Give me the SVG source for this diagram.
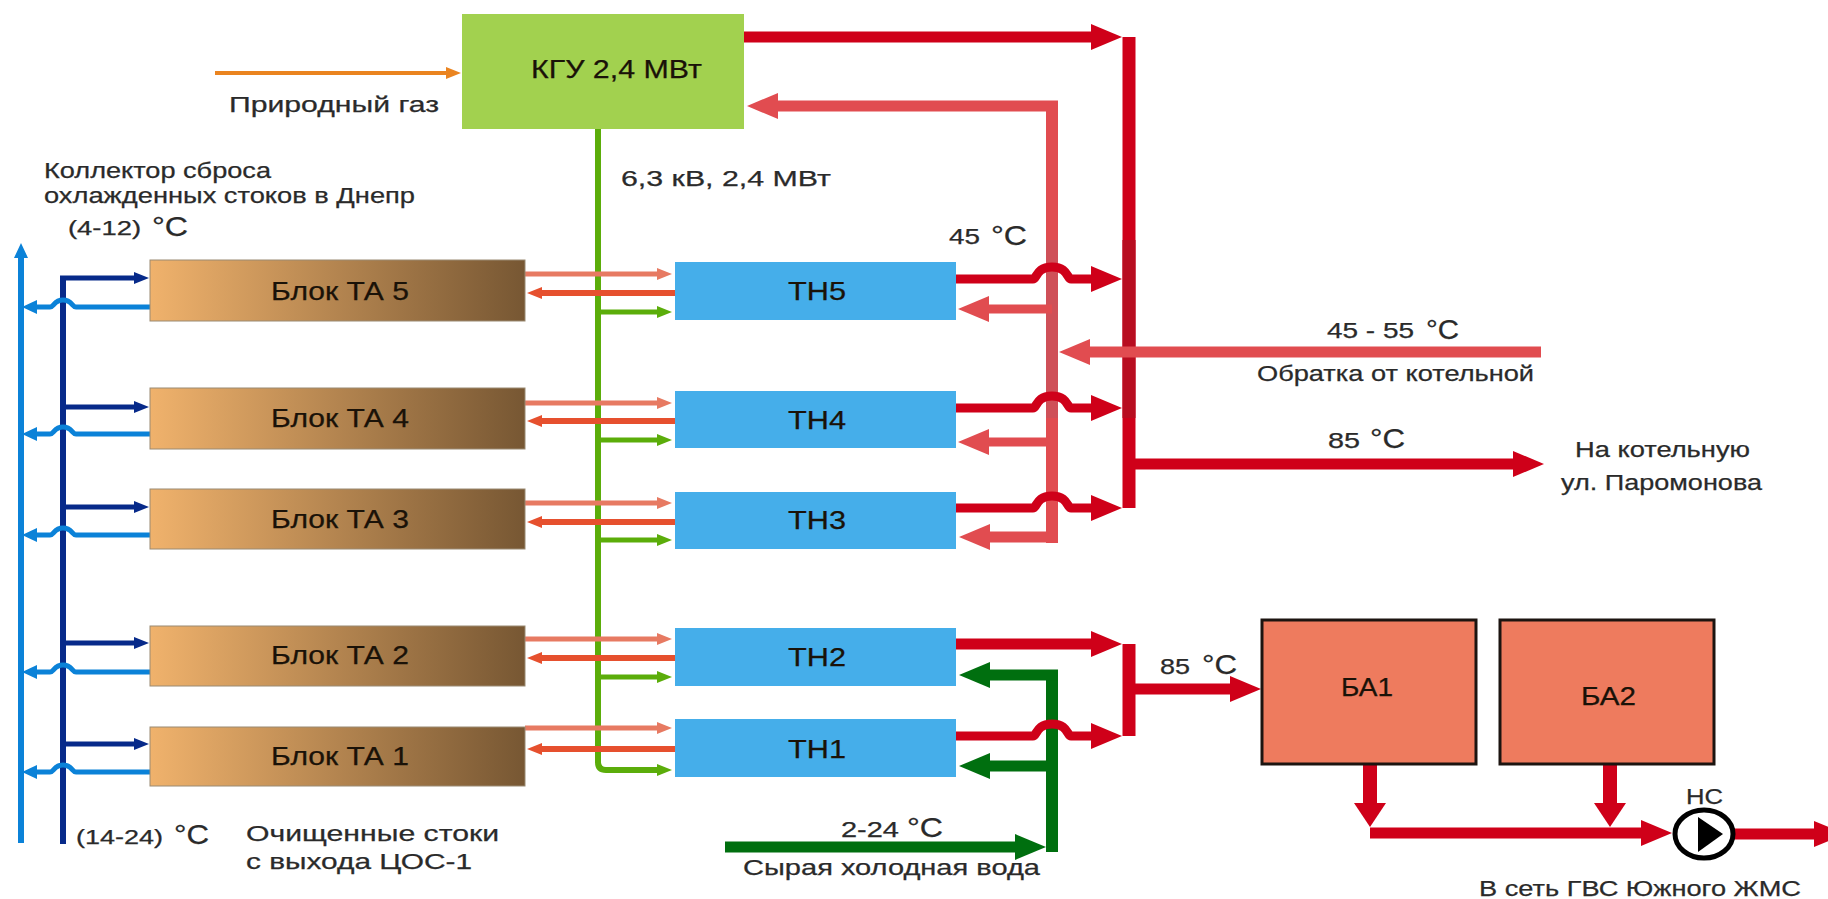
<svg xmlns="http://www.w3.org/2000/svg" width="1828" height="899" viewBox="0 0 1828 899">
<style>
text{font-family:"Liberation Sans",Arial,sans-serif;fill:#2a2a2a;font-size:22px;stroke:#2a2a2a;stroke-width:.25}
.n{fill:#1a1208;stroke:#1a1208;font-size:25px}
.deg{font-size:28px}
.sm{font-size:20px}
.ta{fill:url(#taGrad);stroke:#9a8a72;stroke-width:1}
.th{fill:#45aeea}
.ba{fill:#ee7b5e;stroke:#1c1410;stroke-width:3}
path{fill:none}
.red{stroke:#cf0019;stroke-width:11}
.pnk{stroke:#e14c50;stroke-width:11}
.grn{stroke:#006f0f;stroke-width:11}
.sal{stroke:#e77a62;stroke-width:5}
.ore{stroke:#e6502e;stroke-width:5}
.lim{stroke:#5bad0a;stroke-width:5}
.nav{stroke:#072a8a;stroke-width:5}
.blu{stroke:#0b82d8;stroke-width:5}
.org{stroke:#ea8420;stroke-width:4}
.w6{stroke-width:6}
.w9{stroke-width:9}
.w12{stroke-width:12}
.w13{stroke-width:13}
.w14{stroke-width:14}
</style>
<defs>
<linearGradient id="taGrad"><stop offset="0" stop-color="#f0b26c"/><stop offset="1" stop-color="#775733"/></linearGradient>
<marker id="mR" markerUnits="userSpaceOnUse" markerWidth="32" markerHeight="26" refX="1" refY="13" orient="auto"><polygon points="0,0 31,13 0,26" fill="#cf0019"/></marker>
<marker id="mP" markerUnits="userSpaceOnUse" markerWidth="32" markerHeight="26" refX="1" refY="13" orient="auto"><polygon points="0,0 31,13 0,26" fill="#e14c50"/></marker>
<marker id="mG" markerUnits="userSpaceOnUse" markerWidth="32" markerHeight="26" refX="1" refY="13" orient="auto"><polygon points="0,0 31,13 0,26" fill="#006f0f"/></marker>
<marker id="mO" markerUnits="userSpaceOnUse" markerWidth="16" markerHeight="12" refX="1" refY="6" orient="auto"><polygon points="0,0 15,6 0,12" fill="#ea8420"/></marker>
<marker id="mS" markerUnits="userSpaceOnUse" markerWidth="16" markerHeight="12" refX="1" refY="6" orient="auto"><polygon points="0,0 15,6 0,12" fill="#e77a62"/></marker>
<marker id="mE" markerUnits="userSpaceOnUse" markerWidth="16" markerHeight="12" refX="1" refY="6" orient="auto"><polygon points="0,0 15,6 0,12" fill="#e6502e"/></marker>
<marker id="mL" markerUnits="userSpaceOnUse" markerWidth="16" markerHeight="12" refX="1" refY="6" orient="auto"><polygon points="0,0 15,6 0,12" fill="#5bad0a"/></marker>
<marker id="mN" markerUnits="userSpaceOnUse" markerWidth="16" markerHeight="12" refX="1" refY="6" orient="auto"><polygon points="0,0 15,6 0,12" fill="#072a8a"/></marker>
<marker id="mB" markerUnits="userSpaceOnUse" markerWidth="16" markerHeight="14" refX="1" refY="7" orient="auto"><polygon points="0,0 15,7 0,14" fill="#0b82d8"/></marker>
</defs>
<rect width="1828" height="899" fill="#fff"/>
<g id="connectors">
<path d="M215 73H447" class="org" marker-end="url(#mO)"/>
<path d="M598 129V762Q598 770 606 770H658" class="lim w6" marker-end="url(#mL)"/>
<path d="M598 312H658" class="lim" marker-end="url(#mL)"/>
<path d="M598 440H658" class="lim" marker-end="url(#mL)"/>
<path d="M598 540H658" class="lim" marker-end="url(#mL)"/>
<path d="M598 677H658" class="lim" marker-end="url(#mL)"/>
<path d="M525 274H658" class="sal" marker-end="url(#mS)"/>
<path d="M525 403H658" class="sal" marker-end="url(#mS)"/>
<path d="M525 503H658" class="sal" marker-end="url(#mS)"/>
<path d="M525 639H658" class="sal" marker-end="url(#mS)"/>
<path d="M525 728H658" class="sal" marker-end="url(#mS)"/>
<path d="M675 293H541" class="ore w6" marker-end="url(#mE)"/>
<path d="M675 421H541" class="ore w6" marker-end="url(#mE)"/>
<path d="M675 522H541" class="ore w6" marker-end="url(#mE)"/>
<path d="M675 658H541" class="ore w6" marker-end="url(#mE)"/>
<path d="M675 749H541" class="ore w6" marker-end="url(#mE)"/>
<path d="M21 843V257" class="blu w6" marker-end="url(#mB)"/>
<path d="M63 844V276" class="nav w6"/>
<path d="M60 278H135" class="nav" marker-end="url(#mN)"/>
<path d="M63 407H135" class="nav" marker-end="url(#mN)"/>
<path d="M63 507H135" class="nav" marker-end="url(#mN)"/>
<path d="M63 643H135" class="nav" marker-end="url(#mN)"/>
<path d="M63 744H135" class="nav" marker-end="url(#mN)"/>
<path d="M150 307H76C72 307 72 300 63 300C54 300 54 307 50 307H36" class="blu" marker-end="url(#mB)"/>
<path d="M150 434H76C72 434 72 427 63 427C54 427 54 434 50 434H36" class="blu" marker-end="url(#mB)"/>
<path d="M150 535H76C72 535 72 528 63 528C54 528 54 535 50 535H36" class="blu" marker-end="url(#mB)"/>
<path d="M150 672H76C72 672 72 665 63 665C54 665 54 672 50 672H36" class="blu" marker-end="url(#mB)"/>
<path d="M150 772H76C72 772 72 765 63 765C54 765 54 772 50 772H36" class="blu" marker-end="url(#mB)"/>
<path d="M744 37H1092" class="red" marker-end="url(#mR)"/>
<path d="M1129 37V508" class="red w13"/>
<path d="M1129 240V418" class="w13" stroke="#b80d20"/>
<path d="M1135 464H1514" class="red" marker-end="url(#mR)"/>
<path d="M1058 106H777" class="pnk" marker-end="url(#mP)"/>
<path d="M1052 101V543" class="pnk w12"/>
<path d="M1052 240V418" class="w12" stroke="#cf5058"/>
<path d="M1058 537H989" class="pnk" marker-end="url(#mP)"/>
<path d="M1052 309H988" class="pnk w9" marker-end="url(#mP)"/>
<path d="M1052 442H988" class="pnk w9" marker-end="url(#mP)"/>
<path d="M1541 352H1089" class="pnk" marker-end="url(#mP)"/>
<path d="M955 279H1033C1037 279 1036 267 1052 267C1068 267 1067 279 1071 279H1092" class="red w9" marker-end="url(#mR)"/>
<path d="M955 408H1033C1037 408 1036 396 1052 396C1068 396 1067 408 1071 408H1092" class="red w9" marker-end="url(#mR)"/>
<path d="M955 508H1033C1037 508 1036 496 1052 496C1068 496 1067 508 1071 508H1092" class="red w9" marker-end="url(#mR)"/>
<path d="M1052 852V670" class="grn w12"/>
<path d="M1058 675H989" class="grn" marker-end="url(#mG)"/>
<path d="M1052 766H989" class="grn" marker-end="url(#mG)"/>
<path d="M725 847H1016" class="grn" marker-end="url(#mG)"/>
<path d="M955 644H1092" class="red" marker-end="url(#mR)"/>
<path d="M955 736H1033C1037 736 1036 724 1052 724C1068 724 1067 736 1071 736H1092" class="red w9" marker-end="url(#mR)"/>
<path d="M1129 644V736" class="red w13"/>
<path d="M1135 689H1231" class="red" marker-end="url(#mR)"/>
<path d="M1370 764V803" class="red w14"/>
<polygon points="1354,803 1386,803 1370,827" fill="#cf0019"/>
<path d="M1610 764V803" class="red w14"/>
<polygon points="1594,803 1626,803 1610,827" fill="#cf0019"/>
<path d="M1370 833H1642" class="red" marker-end="url(#mR)"/>
<path d="M1734 834H1815" class="red" marker-end="url(#mR)"/>
</g>
<g id="kgu"><rect x="462" y="14" width="282" height="115" fill="#a2d14f"/><text class="n" x="531" y="78" textLength="171" lengthAdjust="spacingAndGlyphs">КГУ 2,4 МВт</text></g>
<g id="ta5"><rect class="ta" x="150" y="260" width="375" height="61"/><text class="n" x="271" y="300" textLength="138" lengthAdjust="spacingAndGlyphs">Блок ТА 5</text></g>
<g id="ta4"><rect class="ta" x="150" y="388" width="375" height="61"/><text class="n" x="271" y="427" textLength="138" lengthAdjust="spacingAndGlyphs">Блок ТА 4</text></g>
<g id="ta3"><rect class="ta" x="150" y="489" width="375" height="60"/><text class="n" x="271" y="528" textLength="138" lengthAdjust="spacingAndGlyphs">Блок ТА 3</text></g>
<g id="ta2"><rect class="ta" x="150" y="626" width="375" height="60"/><text class="n" x="271" y="664" textLength="138" lengthAdjust="spacingAndGlyphs">Блок ТА 2</text></g>
<g id="ta1"><rect class="ta" x="150" y="727" width="375" height="59"/><text class="n" x="271" y="765" textLength="138" lengthAdjust="spacingAndGlyphs">Блок ТА 1</text></g>
<g id="th5"><rect class="th" x="675" y="262" width="281" height="58"/><text class="n" x="788" y="300" textLength="58" lengthAdjust="spacingAndGlyphs">ТН5</text></g>
<g id="th4"><rect class="th" x="675" y="391" width="281" height="57"/><text class="n" x="788" y="429" textLength="58" lengthAdjust="spacingAndGlyphs">ТН4</text></g>
<g id="th3"><rect class="th" x="675" y="492" width="281" height="57"/><text class="n" x="788" y="529" textLength="58" lengthAdjust="spacingAndGlyphs">ТН3</text></g>
<g id="th2"><rect class="th" x="675" y="628" width="281" height="58"/><text class="n" x="788" y="666" textLength="58" lengthAdjust="spacingAndGlyphs">ТН2</text></g>
<g id="th1"><rect class="th" x="675" y="719" width="281" height="58"/><text class="n" x="788" y="758" textLength="58" lengthAdjust="spacingAndGlyphs">ТН1</text></g>
<g id="ba1"><rect class="ba" x="1262" y="620" width="214" height="144"/><text class="n" x="1341" y="696" textLength="52" lengthAdjust="spacingAndGlyphs">БА1</text></g>
<g id="ba2"><rect class="ba" x="1500" y="620" width="214" height="144"/><text class="n" x="1581" y="705" textLength="55" lengthAdjust="spacingAndGlyphs">БА2</text></g>
<g id="pump"><ellipse cx="1704" cy="834" rx="29" ry="24" fill="#fff" stroke="#000" stroke-width="5"/><polygon points="1698,817 1723,834 1698,852" fill="#000"/><text x="1686" y="804" textLength="37" lengthAdjust="spacingAndGlyphs">НС</text></g>
<g id="labels">
<text x="229" y="112" textLength="210" lengthAdjust="spacingAndGlyphs">Природный газ</text>
<text x="621" y="186" textLength="210" lengthAdjust="spacingAndGlyphs">6,3 кВ, 2,4 МВт</text>
<text x="44" y="178" textLength="227" lengthAdjust="spacingAndGlyphs">Коллектор сброса</text>
<text x="44" y="203" textLength="371" lengthAdjust="spacingAndGlyphs">охлажденных стоков в Днепр</text>
<text class="sm" x="68" y="235" textLength="73" lengthAdjust="spacingAndGlyphs">(4-12)</text>
<text class="deg" x="152" y="236" textLength="36" lengthAdjust="spacingAndGlyphs">°C</text>
<text class="sm" x="76" y="844" textLength="87" lengthAdjust="spacingAndGlyphs">(14-24)</text>
<text class="deg" x="174" y="844" textLength="35" lengthAdjust="spacingAndGlyphs">°C</text>
<text x="246" y="841" textLength="253" lengthAdjust="spacingAndGlyphs">Очищенные стоки</text>
<text x="246" y="869" textLength="226" lengthAdjust="spacingAndGlyphs">с выхода ЦОС-1</text>
<text x="949" y="244" textLength="31" lengthAdjust="spacingAndGlyphs">45</text>
<text class="deg" x="991" y="245" textLength="36" lengthAdjust="spacingAndGlyphs">°C</text>
<text x="1327" y="338" textLength="87" lengthAdjust="spacingAndGlyphs">45 - 55</text>
<text class="deg" x="1426" y="339" textLength="33" lengthAdjust="spacingAndGlyphs">°C</text>
<text x="1257" y="381" textLength="277" lengthAdjust="spacingAndGlyphs">Обратка от котельной</text>
<text x="1328" y="448" textLength="32" lengthAdjust="spacingAndGlyphs">85</text>
<text class="deg" x="1370" y="448" textLength="35" lengthAdjust="spacingAndGlyphs">°C</text>
<text x="1575" y="457" textLength="175" lengthAdjust="spacingAndGlyphs">На котельную</text>
<text x="1561" y="490" textLength="201" lengthAdjust="spacingAndGlyphs">ул. Паромонова</text>
<text x="1160" y="674" textLength="30" lengthAdjust="spacingAndGlyphs">85</text>
<text class="deg" x="1202" y="674" textLength="35" lengthAdjust="spacingAndGlyphs">°C</text>
<text x="841" y="837" textLength="58" lengthAdjust="spacingAndGlyphs">2-24</text>
<text class="deg" x="907" y="837" textLength="36" lengthAdjust="spacingAndGlyphs">°C</text>
<text x="743" y="875" textLength="297" lengthAdjust="spacingAndGlyphs">Сырая холодная вода</text>
<text x="1479" y="896" textLength="322" lengthAdjust="spacingAndGlyphs">В сеть ГВС Южного ЖМС</text>
</g>
</svg>
